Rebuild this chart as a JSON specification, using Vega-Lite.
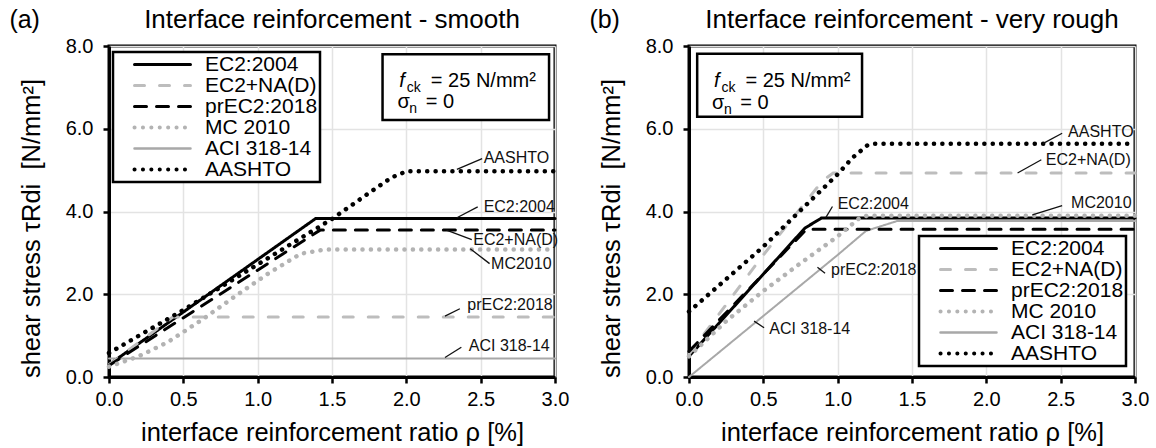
{
  "$schema": "https://vega.github.io/schema/vega-lite/v6.json",
  "background": "white",
  "padding": {"left": 7, "top": 5, "right": 5, "bottom": 0},
  "datasets": {
    "a": [
      {"model": "EC2:2004", "x": 0, "y": 0.3}, {"model": "EC2:2004", "x": 1.39, "y": 3.83}, {"model": "EC2:2004", "x": 3, "y": 3.83},
      {"model": "EC2+NA(D)", "x": 0, "y": 0.3}, {"model": "EC2+NA(D)", "x": 0.43, "y": 1.45}, {"model": "EC2+NA(D)", "x": 3, "y": 1.45},
      {"model": "prEC2:2018", "x": 0, "y": 0.28}, {"model": "prEC2:2018", "x": 1.42, "y": 3.55}, {"model": "prEC2:2018", "x": 3, "y": 3.55},
      {"model": "MC 2010", "x": 0, "y": 0.25}, {"model": "MC 2010", "x": 0.2, "y": 0.5}, {"model": "MC 2010", "x": 0.394, "y": 0.84}, {"model": "MC 2010", "x": 0.62, "y": 1.37}, {"model": "MC 2010", "x": 0.84, "y": 1.93}, {"model": "MC 2010", "x": 1.07, "y": 2.5}, {"model": "MC 2010", "x": 1.29, "y": 2.98}, {"model": "MC 2010", "x": 1.45, "y": 3.08}, {"model": "MC 2010", "x": 3, "y": 3.08},
      {"model": "ACI 318-14", "x": 0, "y": 0.45}, {"model": "ACI 318-14", "x": 3, "y": 0.45},
      {"model": "AASHTO", "x": 0, "y": 0.58}, {"model": "AASHTO", "x": 0.5, "y": 1.62}, {"model": "AASHTO", "x": 1.0, "y": 2.72}, {"model": "AASHTO", "x": 1.5, "y": 3.82}, {"model": "AASHTO", "x": 1.75, "y": 4.45}, {"model": "AASHTO", "x": 1.9, "y": 4.82}, {"model": "AASHTO", "x": 2.0, "y": 4.97}, {"model": "AASHTO", "x": 3, "y": 4.97}
    ],
    "b": [
      {"model": "EC2:2004", "x": 0, "y": 0.5}, {"model": "EC2:2004", "x": 0.78, "y": 3.6}, {"model": "EC2:2004", "x": 0.89, "y": 3.84}, {"model": "EC2:2004", "x": 3, "y": 3.84},
      {"model": "EC2+NA(D)", "x": 0, "y": 0.55}, {"model": "EC2+NA(D)", "x": 0.5, "y": 2.95}, {"model": "EC2+NA(D)", "x": 0.9, "y": 4.75}, {"model": "EC2+NA(D)", "x": 0.97, "y": 4.93}, {"model": "EC2+NA(D)", "x": 3, "y": 4.93},
      {"model": "prEC2:2018", "x": 0, "y": 0.62}, {"model": "prEC2:2018", "x": 0.79, "y": 3.57}, {"model": "prEC2:2018", "x": 3, "y": 3.57},
      {"model": "MC 2010", "x": 0, "y": 0.5}, {"model": "MC 2010", "x": 0.25, "y": 1.35}, {"model": "MC 2010", "x": 0.5, "y": 2.08}, {"model": "MC 2010", "x": 0.75, "y": 2.75}, {"model": "MC 2010", "x": 1.0, "y": 3.4}, {"model": "MC 2010", "x": 1.15, "y": 3.85}, {"model": "MC 2010", "x": 1.2, "y": 3.9}, {"model": "MC 2010", "x": 3, "y": 3.9},
      {"model": "ACI 318-14", "x": 0, "y": 0}, {"model": "ACI 318-14", "x": 1.0, "y": 2.95}, {"model": "ACI 318-14", "x": 1.19, "y": 3.53}, {"model": "ACI 318-14", "x": 1.4, "y": 3.77}, {"model": "ACI 318-14", "x": 3, "y": 3.77},
      {"model": "AASHTO", "x": 0, "y": 1.58}, {"model": "AASHTO", "x": 0.5, "y": 3.15}, {"model": "AASHTO", "x": 1.0, "y": 4.9}, {"model": "AASHTO", "x": 1.1, "y": 5.3}, {"model": "AASHTO", "x": 1.2, "y": 5.6}, {"model": "AASHTO", "x": 1.25, "y": 5.64}, {"model": "AASHTO", "x": 3, "y": 5.64}
    ],
    "annA": [
      {"label": "AASHTO", "tx": 2.52, "ty": 5.17, "x1": 2.34, "y1": 5.02, "x2": 2.51, "y2": 5.28},
      {"label": "EC2:2004", "tx": 2.52, "ty": 3.99, "x1": 2.34, "y1": 3.85, "x2": 2.48, "y2": 4.11},
      {"label": "EC2+NA(D)", "tx": 2.45, "ty": 3.18, "x1": 2.27, "y1": 3.55, "x2": 2.44, "y2": 3.32},
      {"label": "MC2010", "tx": 2.57, "ty": 2.62, "x1": 2.43, "y1": 3.1, "x2": 2.56, "y2": 2.74},
      {"label": "prEC2:2018", "tx": 2.41, "ty": 1.61, "x1": 2.26, "y1": 1.47, "x2": 2.36, "y2": 1.65},
      {"label": "ACI 318-14", "tx": 2.42, "ty": 0.64, "x1": 2.26, "y1": 0.47, "x2": 2.37, "y2": 0.72}
    ],
    "annB": [
      {"label": "AASHTO", "tx": 2.55, "ty": 5.79, "x1": 2.38, "y1": 5.64, "x2": 2.51, "y2": 5.89},
      {"label": "EC2+NA(D)", "tx": 2.4, "ty": 5.12, "x1": 2.21, "y1": 4.93, "x2": 2.37, "y2": 5.25},
      {"label": "EC2:2004", "tx": 1.0, "ty": 4.07, "x1": 0.92, "y1": 3.85, "x2": 0.965, "y2": 4.12},
      {"label": "MC2010", "tx": 2.57, "ty": 4.09, "x1": 2.31, "y1": 3.92, "x2": 2.51, "y2": 4.14},
      {"label": "prEC2:2018", "tx": 0.955, "ty": 2.47, "x1": 0.864, "y1": 2.65, "x2": 0.915, "y2": 2.51},
      {"label": "ACI 318-14", "tx": 0.54, "ty": 1.05, "x1": 0.438, "y1": 1.35, "x2": 0.505, "y2": 1.19}
    ]
  },
  "hconcat": [
    {
      "width": 446, "height": 331,
      "title": {"text": "Interface reinforcement - smooth"},
      "layer": [
        {"data": {"name": "a"}, "transform": [{"filter": {"field": "model", "oneOf": ["ACI 318-14"]}}],
         "mark": {"type": "line", "strokeWidth": 2, "strokeCap": "round"},
         "encoding": {
           "x": {"field": "x", "type": "quantitative", "title": "interface reinforcement ratio ρ [%]", "scale": {"domain": [0, 3], "nice": false, "zero": false}, "axis": {"values": [0, 0.5, 1, 1.5, 2, 2.5, 3], "format": ".1f"}},
           "y": {"field": "y", "type": "quantitative", "title": "shear stress τRdi\u00a0 [N/mm²]", "scale": {"domain": [0, 8], "nice": false}, "axis": {"values": [0, 2, 4, 6, 8], "format": ".1f"}},
           "color": {"field": "model", "type": "nominal", "scale": {"domain": ["EC2:2004", "EC2+NA(D)", "prEC2:2018", "MC 2010", "ACI 318-14", "AASHTO"], "range": ["#000000", "#bdbdbd", "#000000", "#b3b3b3", "#a8a8a8", "#000000"]},
             "legend": {"orient": "none", "legendX": 4, "legendY": 6, "title": null, "symbolType": "M-28,0H28", "symbolSize": 4, "labelExpr": "datum.label + '\u00a0\u00a0'", "encode": {"symbols": {"update": {"strokeCap": {"value": "round"}, "strokeWidth": {"signal": "datum.value == 'MC 2010' || datum.value == 'AASHTO' ? 4 : (datum.value == 'ACI 318-14' ? 2.5 : 3)"}}}, "legend": {"update": {"strokeWidth": {"value": 2.5}}}}}},
           "strokeDash": {"field": "model", "type": "nominal", "scale": {"domain": ["EC2:2004", "EC2+NA(D)", "prEC2:2018", "MC 2010", "ACI 318-14", "AASHTO"], "range": [[1, 0], [10, 15], [12, 10], [0.1, 8.3], [1, 0], [0.1, 8.3]]},
             "legend": {"orient": "none", "legendX": 4, "legendY": 6, "title": null, "symbolType": "M-28,0H28", "symbolSize": 4, "labelExpr": "datum.label + '\u00a0\u00a0'", "encode": {"symbols": {"update": {"strokeCap": {"value": "round"}, "strokeWidth": {"signal": "datum.value == 'MC 2010' || datum.value == 'AASHTO' ? 4 : (datum.value == 'ACI 318-14' ? 2.5 : 3)"}}}, "legend": {"update": {"strokeWidth": {"value": 2.5}}}}}}
         }},
        {"data": {"name": "a"}, "transform": [{"filter": {"field": "model", "oneOf": ["EC2:2004", "EC2+NA(D)", "prEC2:2018"]}}],
         "mark": {"type": "line", "strokeWidth": 3, "strokeCap": "round"},
         "encoding": {
           "x": {"field": "x", "type": "quantitative", "title": "interface reinforcement ratio ρ [%]", "scale": {"domain": [0, 3], "nice": false, "zero": false}},
           "y": {"field": "y", "type": "quantitative", "title": "shear stress τRdi\u00a0 [N/mm²]", "scale": {"domain": [0, 8], "nice": false}},
           "color": {"field": "model", "type": "nominal"},
           "strokeDash": {"field": "model", "type": "nominal"}
         }},
        {"data": {"name": "a"}, "transform": [{"filter": {"field": "model", "oneOf": ["MC 2010", "AASHTO"]}}],
         "mark": {"type": "line", "strokeWidth": 4.5, "strokeCap": "round"},
         "encoding": {
           "x": {"field": "x", "type": "quantitative", "title": "interface reinforcement ratio ρ [%]", "scale": {"domain": [0, 3], "nice": false, "zero": false}},
           "y": {"field": "y", "type": "quantitative", "title": "shear stress τRdi\u00a0 [N/mm²]", "scale": {"domain": [0, 8], "nice": false}},
           "color": {"field": "model", "type": "nominal"},
           "strokeDash": {"field": "model", "type": "nominal"}
         }},
        {"data": {"name": "annA"},
         "mark": {"type": "rule", "strokeWidth": 1.3, "color": "#111111"},
         "encoding": {
           "x": {"field": "x1", "type": "quantitative", "title": "interface reinforcement ratio ρ [%]"},
           "y": {"field": "y1", "type": "quantitative", "title": "shear stress τRdi\u00a0 [N/mm²]"},
           "x2": {"field": "x2"}, "y2": {"field": "y2"}
         }},
        {"data": {"name": "annA"},
         "mark": {"type": "text", "fontSize": 16, "align": "left", "baseline": "alphabetic", "color": "#111111"},
         "encoding": {
           "x": {"field": "tx", "type": "quantitative", "title": "interface reinforcement ratio ρ [%]"},
           "y": {"field": "ty", "type": "quantitative", "title": "shear stress τRdi\u00a0 [N/mm²]"},
           "text": {"field": "label"}
         }},
        {"data": {"values": [{}]},
         "mark": {"type": "rect", "fill": "white", "stroke": "black", "strokeWidth": 2.5},
         "encoding": {"x": {"datum": 1.84}, "x2": {"datum": 2.96}, "y": {"datum": 7.8}, "y2": {"datum": 6.21}}},
        {"data": {"values": [{}]},
         "mark": {"type": "text", "text": "f", "fontSize": 20, "fontStyle": "italic", "align": "left", "baseline": "alphabetic"},
         "encoding": {"x": {"datum": 1.953}, "y": {"datum": 7.01}}},
        {"data": {"values": [{}]},
         "mark": {"type": "text", "text": "ck", "fontSize": 14, "align": "left", "baseline": "alphabetic"},
         "encoding": {"x": {"datum": 2.003}, "y": {"datum": 6.89}}},
        {"data": {"values": [{}]},
         "mark": {"type": "text", "text": "= 25 N/mm²", "fontSize": 20, "align": "left", "baseline": "alphabetic"},
         "encoding": {"x": {"datum": 2.165}, "y": {"datum": 7.01}}},
        {"data": {"values": [{}]},
         "mark": {"type": "text", "text": "σ", "fontSize": 20, "align": "left", "baseline": "alphabetic"},
         "encoding": {"x": {"datum": 1.94}, "y": {"datum": 6.49}}},
        {"data": {"values": [{}]},
         "mark": {"type": "text", "text": "n", "fontSize": 14, "align": "left", "baseline": "alphabetic"},
         "encoding": {"x": {"datum": 2.02}, "y": {"datum": 6.37}}},
        {"data": {"values": [{}]},
         "mark": {"type": "text", "text": "= 0", "fontSize": 20, "align": "left", "baseline": "alphabetic"},
         "encoding": {"x": {"datum": 2.13}, "y": {"datum": 6.49}}},
        {"data": {"values": [{}]},
         "mark": {"type": "text", "text": "(a)", "fontSize": 25, "align": "left", "baseline": "alphabetic"},
         "encoding": {"x": {"datum": -0.67}, "y": {"datum": 8.43}}}
      ]
    },
    {
      "width": 446, "height": 331,
      "title": {"text": "Interface reinforcement - very rough"},
      "layer": [
        {"data": {"name": "b"}, "transform": [{"filter": {"field": "model", "oneOf": ["ACI 318-14"]}}],
         "mark": {"type": "line", "strokeWidth": 2, "strokeCap": "round"},
         "encoding": {
           "x": {"field": "x", "type": "quantitative", "title": "interface reinforcement ratio ρ [%]", "scale": {"domain": [0, 3], "nice": false, "zero": false}, "axis": {"values": [0, 0.5, 1, 1.5, 2, 2.5, 3], "format": ".1f"}},
           "y": {"field": "y", "type": "quantitative", "title": "shear stress τRdi\u00a0 [N/mm²]", "scale": {"domain": [0, 8], "nice": false}, "axis": {"values": [0, 2, 4, 6, 8], "format": ".1f"}},
           "color": {"field": "model", "type": "nominal", "scale": {"domain": ["EC2:2004", "EC2+NA(D)", "prEC2:2018", "MC 2010", "ACI 318-14", "AASHTO"], "range": ["#000000", "#bdbdbd", "#000000", "#b3b3b3", "#a8a8a8", "#000000"]},
             "legend": {"orient": "none", "legendX": 230, "legendY": 190, "title": null, "symbolType": "M-28,0H28", "symbolSize": 4, "labelExpr": "datum.label + '\u00a0\u00a0'", "encode": {"symbols": {"update": {"strokeCap": {"value": "round"}, "strokeWidth": {"signal": "datum.value == 'MC 2010' || datum.value == 'AASHTO' ? 4 : (datum.value == 'ACI 318-14' ? 2.5 : 3)"}}}, "legend": {"update": {"strokeWidth": {"value": 2.5}}}}}},
           "strokeDash": {"field": "model", "type": "nominal", "scale": {"domain": ["EC2:2004", "EC2+NA(D)", "prEC2:2018", "MC 2010", "ACI 318-14", "AASHTO"], "range": [[1, 0], [10, 15], [12, 10], [0.1, 8.3], [1, 0], [0.1, 8.3]]},
             "legend": {"orient": "none", "legendX": 230, "legendY": 190, "title": null, "symbolType": "M-28,0H28", "symbolSize": 4, "labelExpr": "datum.label + '\u00a0\u00a0'", "encode": {"symbols": {"update": {"strokeCap": {"value": "round"}, "strokeWidth": {"signal": "datum.value == 'MC 2010' || datum.value == 'AASHTO' ? 4 : (datum.value == 'ACI 318-14' ? 2.5 : 3)"}}}, "legend": {"update": {"strokeWidth": {"value": 2.5}}}}}}
         }},
        {"data": {"name": "b"}, "transform": [{"filter": {"field": "model", "oneOf": ["EC2:2004", "EC2+NA(D)", "prEC2:2018"]}}],
         "mark": {"type": "line", "strokeWidth": 3, "strokeCap": "round"},
         "encoding": {
           "x": {"field": "x", "type": "quantitative", "title": "interface reinforcement ratio ρ [%]", "scale": {"domain": [0, 3], "nice": false, "zero": false}},
           "y": {"field": "y", "type": "quantitative", "title": "shear stress τRdi\u00a0 [N/mm²]", "scale": {"domain": [0, 8], "nice": false}},
           "color": {"field": "model", "type": "nominal"},
           "strokeDash": {"field": "model", "type": "nominal"}
         }},
        {"data": {"name": "b"}, "transform": [{"filter": {"field": "model", "oneOf": ["MC 2010", "AASHTO"]}}],
         "mark": {"type": "line", "strokeWidth": 4.5, "strokeCap": "round"},
         "encoding": {
           "x": {"field": "x", "type": "quantitative", "title": "interface reinforcement ratio ρ [%]", "scale": {"domain": [0, 3], "nice": false, "zero": false}},
           "y": {"field": "y", "type": "quantitative", "title": "shear stress τRdi\u00a0 [N/mm²]", "scale": {"domain": [0, 8], "nice": false}},
           "color": {"field": "model", "type": "nominal"},
           "strokeDash": {"field": "model", "type": "nominal"}
         }},
        {"data": {"name": "annB"},
         "mark": {"type": "rule", "strokeWidth": 1.3, "color": "#111111"},
         "encoding": {
           "x": {"field": "x1", "type": "quantitative", "title": "interface reinforcement ratio ρ [%]"},
           "y": {"field": "y1", "type": "quantitative", "title": "shear stress τRdi\u00a0 [N/mm²]"},
           "x2": {"field": "x2"}, "y2": {"field": "y2"}
         }},
        {"data": {"name": "annB"},
         "mark": {"type": "text", "fontSize": 16, "align": "left", "baseline": "alphabetic", "color": "#111111"},
         "encoding": {
           "x": {"field": "tx", "type": "quantitative", "title": "interface reinforcement ratio ρ [%]"},
           "y": {"field": "ty", "type": "quantitative", "title": "shear stress τRdi\u00a0 [N/mm²]"},
           "text": {"field": "label"}
         }},
        {"data": {"values": [{}]},
         "mark": {"type": "rect", "fill": "white", "stroke": "black", "strokeWidth": 2.5},
         "encoding": {"x": {"datum": 0.055}, "x2": {"datum": 1.164}, "y": {"datum": 7.81}, "y2": {"datum": 6.29}}},
        {"data": {"values": [{}]},
         "mark": {"type": "text", "text": "f", "fontSize": 20, "fontStyle": "italic", "align": "left", "baseline": "alphabetic"},
         "encoding": {"x": {"datum": 0.168}, "y": {"datum": 7.0}}},
        {"data": {"values": [{}]},
         "mark": {"type": "text", "text": "ck", "fontSize": 14, "align": "left", "baseline": "alphabetic"},
         "encoding": {"x": {"datum": 0.218}, "y": {"datum": 6.88}}},
        {"data": {"values": [{}]},
         "mark": {"type": "text", "text": "= 25 N/mm²", "fontSize": 20, "align": "left", "baseline": "alphabetic"},
         "encoding": {"x": {"datum": 0.38}, "y": {"datum": 7.0}}},
        {"data": {"values": [{}]},
         "mark": {"type": "text", "text": "σ", "fontSize": 20, "align": "left", "baseline": "alphabetic"},
         "encoding": {"x": {"datum": 0.155}, "y": {"datum": 6.48}}},
        {"data": {"values": [{}]},
         "mark": {"type": "text", "text": "n", "fontSize": 14, "align": "left", "baseline": "alphabetic"},
         "encoding": {"x": {"datum": 0.235}, "y": {"datum": 6.36}}},
        {"data": {"values": [{}]},
         "mark": {"type": "text", "text": "= 0", "fontSize": 20, "align": "left", "baseline": "alphabetic"},
         "encoding": {"x": {"datum": 0.345}, "y": {"datum": 6.48}}},
        {"data": {"values": [{}]},
         "mark": {"type": "text", "text": "(b)", "fontSize": 25, "align": "left", "baseline": "alphabetic"},
         "encoding": {"x": {"datum": -0.67}, "y": {"datum": 8.43}}}
      ]
    }
  ],
  "spacing": 134,
  "bounds": "flush",
  "resolve": {
    "scale": {"color": "independent", "strokeDash": "independent"},
    "legend": {"color": "independent", "strokeDash": "independent"}
  },
  "config": {
    "font": "Liberation Sans",
    "view": {"stroke": "black", "strokeWidth": 3},
    "title": {"fontSize": 26, "fontWeight": "normal", "color": "black", "baseline": "alphabetic", "offset": 17, "dy": 42, "frame": "group", "font": "Liberation Sans"},
    "text": {"font": "Liberation Sans", "color": "black"},
    "axis": {
      "labelFont": "Liberation Sans", "titleFont": "Liberation Sans",
      "labelFontSize": 20, "titleFontSize": 25.5, "titleFontWeight": "normal",
      "labelColor": "black", "titleColor": "black",
      "domainColor": "black", "domainWidth": 3,
      "tickColor": "black", "tickWidth": 2.5, "tickSize": 6,
      "gridColor": "#e3e3e3", "gridWidth": 1.5,
      "labelFlush": false, "labelOverlap": false
    },
    "axisX": {"labelPadding": 6, "titleBaseline": "alphabetic", "titleY": 63},
    "axisY": {"labelPadding": 10, "titleBaseline": "alphabetic", "titleX": -70, "titleY": 182, "titleAngle": 270},
    "legend": {
      "labelFont": "Liberation Sans", "labelFontSize": 21, "labelColor": "black",
      "symbolStrokeWidth": 3, "symbolOffset": 37, "labelOffset": 32,
      "padding": 2, "rowPadding": -1, "strokeColor": "black", "fillColor": "white",
      "labelLimit": 300
    }
  }
}
